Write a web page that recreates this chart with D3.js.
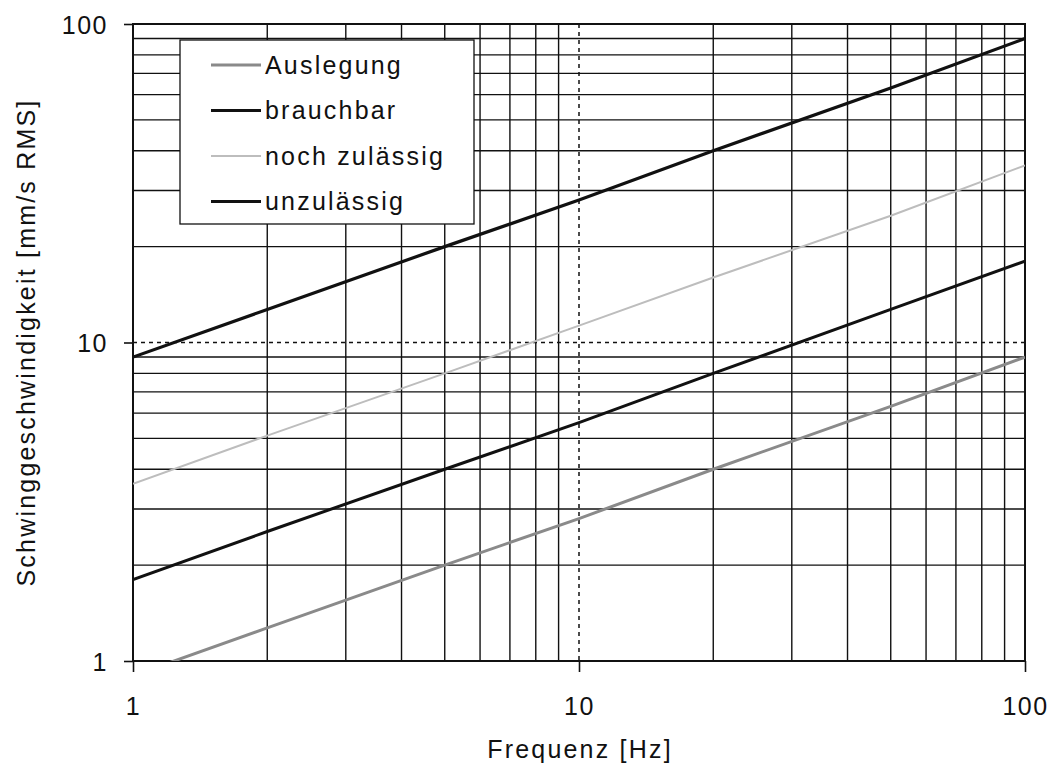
<!DOCTYPE html>
<html>
<head>
<meta charset="utf-8">
<script src="https://cdn.jsdelivr.net/npm/d3@7"></script>
<style>
  html, body { margin: 0; padding: 0; background: #fff; }
  text { font-family: "Liberation Sans", Arial, sans-serif; }
</style>
</head>
<body>
<svg id="chart" width="1054" height="771"></svg>
<script>
// ---- data ----
const frequencies = [1, 2, 5, 10, 20, 50, 100];
const auslegung    = [0.9, 1.27, 2.0, 2.8, 4.0, 6.3, 9.0];
const brauchbar    = [1.8, 2.55, 4.0, 5.6, 8.0, 12.7, 18.0];
const nochZulaessig = [3.6, 5.1, 8.0, 11.3, 16.0, 25.0, 36.0];
const unzulaessig  = [9.0, 12.7, 20.0, 28.0, 40.0, 63.0, 90.0];
const seriesNames = ["Auslegung", "brauchbar", "noch zulässig", "unzulässig"];
const seriesValues = [auslegung, brauchbar, nochZulaessig, unzulaessig];
const xTickLabels = [1, 10, 100];
const yTickLabels = [1, 10, 100];
const gridMinor = [2, 3, 4, 5, 6, 7, 8, 9, 20, 30, 40, 50, 60, 70, 80, 90];
const gridMajorDashed = [10];
const xTitle = "Frequenz [Hz]";
const yTitle = "Schwinggeschwindigkeit [mm/s RMS]";

// ---- styles ----
const seriesStyle = [
  { color: "#8a8a8a", width: 3 },
  { color: "#111", width: 3 },
  { color: "#bdbdbd", width: 2 },
  { color: "#111", width: 3.2 }
];

const svg = d3.select("#chart");
const m = { left: 133, right: 1025, top: 24, bottom: 661 };

const x = d3.scaleLog().domain([1, 100]).range([m.left, m.right]);
const y = d3.scaleLog().domain([1, 100]).range([m.bottom, m.top]);

const grid = svg.append("g");
function gridLine(v, dashed) {
  grid.append("line")
    .attr("x1", x(v)).attr("x2", x(v))
    .attr("y1", m.top).attr("y2", m.bottom)
    .attr("stroke", "#111").attr("stroke-width", dashed ? 1.5 : 1.4)
    .attr("stroke-dasharray", dashed ? "4,4" : null);
  grid.append("line")
    .attr("y1", y(v)).attr("y2", y(v))
    .attr("x1", m.left).attr("x2", m.right)
    .attr("stroke", "#111").attr("stroke-width", dashed ? 1.5 : 1.4)
    .attr("stroke-dasharray", dashed ? "4,4" : null);
}
gridMinor.forEach(v => gridLine(v, false));
gridMajorDashed.forEach(v => gridLine(v, true));

// frame
svg.append("rect")
  .attr("x", m.left).attr("y", m.top)
  .attr("width", m.right - m.left).attr("height", m.bottom - m.top)
  .attr("fill", "none").attr("stroke", "#111").attr("stroke-width", 2);

// axes
const xAxis = d3.axisBottom(x).tickValues(xTickLabels).tickFormat(d3.format("d"))
  .tickSizeInner(11).tickSizeOuter(0).tickPadding(25);
const yAxis = d3.axisLeft(y).tickValues(yTickLabels).tickFormat(d3.format("d"))
  .tickSizeInner(9).tickSizeOuter(0).tickPadding(16);

const gx = svg.append("g").attr("transform", `translate(0,${m.bottom})`).call(xAxis);
const gy = svg.append("g").attr("transform", `translate(${m.left},0)`).call(yAxis);
[gx, gy].forEach(g => {
  g.select(".domain").remove();
  g.selectAll(".tick line").attr("stroke", "#111").attr("stroke-width", 1.6);
  g.selectAll(".tick text")
    .attr("fill", "#111")
    .style("font-size", "25px")
    .style("letter-spacing", "1.5px")
    .style("font-family", "'Liberation Sans', Arial, sans-serif");
});
gy.selectAll(".tick text").attr("dy", "0.36em");

// clip
svg.append("clipPath").attr("id", "clip")
  .append("rect").attr("x", m.left).attr("y", m.top)
  .attr("width", m.right - m.left).attr("height", m.bottom - m.top);

const line = d3.line().x(d => x(d[0])).y(d => y(d[1]));
const lines = svg.append("g").attr("clip-path", "url(#clip)");
seriesValues.forEach((vals, i) => {
  lines.append("path")
    .datum(frequencies.map((f, j) => [f, vals[j]]))
    .attr("d", line)
    .attr("fill", "none")
    .attr("stroke", seriesStyle[i].color)
    .attr("stroke-width", seriesStyle[i].width);
});

// legend
const lg = svg.append("g");
lg.append("rect")
  .attr("x", 180).attr("y", 40).attr("width", 294).attr("height", 184)
  .attr("fill", "#fff").attr("stroke", "#111").attr("stroke-width", 1.3);
seriesNames.forEach((name, i) => {
  const yy = 65 + i * 45.5;
  lg.append("line")
    .attr("x1", 211).attr("x2", 261).attr("y1", yy).attr("y2", yy)
    .attr("stroke", seriesStyle[i].color).attr("stroke-width", seriesStyle[i].width);
  lg.append("text")
    .attr("x", 265).attr("y", yy).attr("dy", "0.35em")
    .attr("fill", "#111")
    .style("font-size", "25px").style("letter-spacing", "2.2px")
    .text(name);
});

// axis titles
svg.append("text")
  .attr("x", (m.left + m.right) / 2 + 1).attr("y", 758)
  .attr("text-anchor", "middle").attr("fill", "#111")
  .style("font-size", "25px").style("letter-spacing", "2.2px")
  .text(xTitle);
svg.append("text")
  .attr("transform", `translate(35,${(m.top + m.bottom) / 2}) rotate(-90)`)
  .attr("text-anchor", "middle").attr("fill", "#111")
  .style("font-size", "25px").style("letter-spacing", "2.2px")
  .text(yTitle);
</script>
</body>
</html>
